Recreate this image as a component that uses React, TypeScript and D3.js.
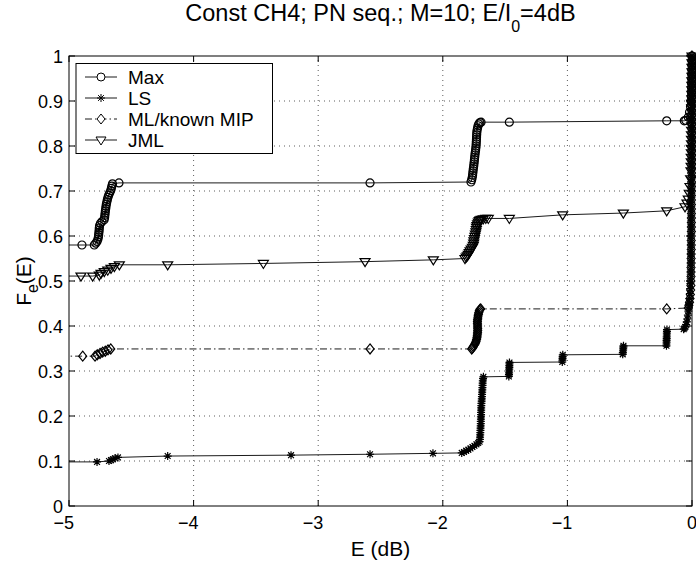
import React from "react";
import * as d3 from "d3";

type P = [number, number];

const xTicks = [-5, -4, -3, -2, -1, 0];
const yTicks = [0, 0.1, 0.2, 0.3, 0.4, 0.5, 0.6, 0.7, 0.8, 0.9, 1];
const legendNames = ["Max", "LS", "ML/known MIP", "JML"];

const maxData: P[] = [
  [-5.3, 0.58], [-4.896, 0.58],
  [-4.797, 0.58], [-4.785, 0.584], [-4.775, 0.588], [-4.768, 0.593], [-4.764, 0.598], [-4.762, 0.603],
  [-4.76, 0.608], [-4.758, 0.613], [-4.757, 0.618], [-4.755, 0.623], [-4.748, 0.628], [-4.735, 0.632],
  [-4.718, 0.636], [-4.714, 0.641], [-4.712, 0.646], [-4.71, 0.651], [-4.708, 0.656], [-4.705, 0.661],
  [-4.703, 0.666], [-4.7, 0.671], [-4.696, 0.676], [-4.692, 0.681], [-4.687, 0.686], [-4.681, 0.691],
  [-4.673, 0.696], [-4.665, 0.701], [-4.66, 0.706], [-4.656, 0.711], [-4.651, 0.716],
  [-4.599, 0.718], [-2.584, 0.718],
  [-1.774, 0.72], [-1.768, 0.725], [-1.764, 0.73], [-1.761, 0.735], [-1.759, 0.74], [-1.757, 0.745],
  [-1.755, 0.75], [-1.752, 0.755], [-1.75, 0.76], [-1.748, 0.765], [-1.746, 0.77], [-1.744, 0.775],
  [-1.742, 0.78], [-1.74, 0.785], [-1.737, 0.79], [-1.735, 0.795], [-1.733, 0.8], [-1.732, 0.805],
  [-1.731, 0.81], [-1.73, 0.815], [-1.729, 0.82], [-1.728, 0.825], [-1.727, 0.83], [-1.725, 0.835],
  [-1.721, 0.84], [-1.717, 0.845], [-1.711, 0.849], [-1.702, 0.852], [-1.693, 0.853],
  [-1.466, 0.853], [-0.203, 0.856], [-0.062, 0.856], [-0.05, 0.857],
  [-0.03, 0.864], [-0.02, 0.875], [-0.012, 0.888], [-0.008, 0.9], [-0.006, 0.91], [-0.005, 0.92],
  [-0.004, 0.93], [-0.004, 0.94], [-0.003, 0.95], [-0.003, 0.96], [-0.002, 0.97], [-0.001, 0.98],
  [-0.001, 0.99], [0, 1],
];

const lsData: P[] = [
  [-5.3, 0.098], [-4.775, 0.098], [-4.679, 0.1], [-4.663, 0.102], [-4.647, 0.104], [-4.631, 0.106],
  [-4.607, 0.108], [-4.208, 0.111], [-3.218, 0.113], [-2.584, 0.115], [-2.079, 0.117],
  [-1.848, 0.118], [-1.83, 0.12], [-1.812, 0.123], [-1.795, 0.125], [-1.778, 0.128], [-1.762, 0.131],
  [-1.746, 0.134], [-1.73, 0.137], [-1.716, 0.14], [-1.705, 0.143],
  [-1.702, 0.148], [-1.701, 0.153], [-1.7, 0.158], [-1.699, 0.163], [-1.698, 0.168], [-1.697, 0.173],
  [-1.696, 0.178], [-1.695, 0.183], [-1.695, 0.188], [-1.694, 0.193], [-1.694, 0.198], [-1.693, 0.203],
  [-1.693, 0.208], [-1.692, 0.213], [-1.692, 0.218], [-1.691, 0.223], [-1.69, 0.228], [-1.688, 0.233],
  [-1.687, 0.238], [-1.686, 0.243], [-1.685, 0.248], [-1.684, 0.253], [-1.683, 0.258], [-1.682, 0.263],
  [-1.681, 0.268], [-1.68, 0.273], [-1.679, 0.278], [-1.677, 0.283], [-1.674, 0.287],
  [-1.47, 0.288], [-1.469, 0.292], [-1.468, 0.296], [-1.468, 0.3], [-1.467, 0.304], [-1.466, 0.308],
  [-1.466, 0.312], [-1.465, 0.316], [-1.465, 0.319],
  [-1.041, 0.32], [-1.04, 0.324], [-1.039, 0.328], [-1.038, 0.332], [-1.037, 0.336],
  [-0.556, 0.337], [-0.555, 0.341], [-0.553, 0.345], [-0.552, 0.349], [-0.551, 0.353], [-0.55, 0.356],
  [-0.205, 0.356], [-0.205, 0.36], [-0.204, 0.364], [-0.204, 0.368], [-0.203, 0.372], [-0.203, 0.376],
  [-0.202, 0.38], [-0.202, 0.384], [-0.201, 0.388], [-0.201, 0.392],
  [-0.067, 0.393], [-0.06, 0.395], [-0.053, 0.398], [-0.047, 0.403], [-0.042, 0.409], [-0.037, 0.416],
  [-0.033, 0.424], [-0.029, 0.433], [-0.026, 0.442], [-0.023, 0.451], [-0.02, 0.461], [-0.017, 0.472],
  [-0.015, 0.483], [-0.013, 0.494], [-0.011, 0.505], [-0.01, 0.515],
  [-0.009, 0.525], [-0.009, 0.535], [-0.008, 0.545], [-0.008, 0.555], [-0.008, 0.565], [-0.007, 0.575],
  [-0.007, 0.585], [-0.007, 0.595], [-0.006, 0.605], [-0.006, 0.615], [-0.006, 0.625], [-0.006, 0.635],
  [-0.005, 0.645], [-0.005, 0.655], [-0.005, 0.665], [-0.005, 0.675], [-0.004, 0.685], [-0.004, 0.695],
  [-0.004, 0.705], [-0.004, 0.715], [-0.004, 0.725], [-0.003, 0.735], [-0.003, 0.745], [-0.003, 0.755],
  [-0.003, 0.765], [-0.003, 0.775], [-0.003, 0.785], [-0.002, 0.795], [-0.002, 0.805], [-0.002, 0.815],
  [-0.002, 0.825], [-0.002, 0.835], [-0.002, 0.845], [-0.002, 0.855], [-0.001, 0.865], [-0.001, 0.875],
  [-0.001, 0.885], [-0.001, 0.895], [-0.001, 0.905], [-0.001, 0.915], [-0.001, 0.925], [-0.001, 0.935],
  [0, 0.945], [0, 0.955], [0, 0.965], [0, 0.975], [0, 0.985], [0, 0.995], [0, 1],
];

const mlData: P[] = [
  [-5.3, 0.333], [-4.89, 0.333], [-4.791, 0.333], [-4.773, 0.336], [-4.751, 0.339], [-4.73, 0.342],
  [-4.709, 0.344], [-4.687, 0.347], [-4.665, 0.349],
  [-2.584, 0.349],
  [-1.768, 0.349], [-1.762, 0.351], [-1.755, 0.354], [-1.749, 0.357], [-1.742, 0.36], [-1.737, 0.363],
  [-1.733, 0.366], [-1.729, 0.37], [-1.726, 0.374], [-1.724, 0.378], [-1.722, 0.382], [-1.721, 0.386],
  [-1.72, 0.39], [-1.72, 0.394], [-1.721, 0.398], [-1.721, 0.402], [-1.722, 0.406], [-1.722, 0.41],
  [-1.721, 0.414], [-1.719, 0.418], [-1.717, 0.422], [-1.714, 0.426], [-1.711, 0.43], [-1.707, 0.434],
  [-1.702, 0.437], [-1.696, 0.438],
  [-0.203, 0.438],
  [-0.03, 0.44], [-0.025, 0.446], [-0.02, 0.453], [-0.016, 0.461], [-0.013, 0.47], [-0.011, 0.48],
  [-0.009, 0.49], [-0.009, 0.5], [-0.008, 0.51], [-0.008, 0.52], [-0.008, 0.53], [-0.007, 0.54],
  [-0.007, 0.55], [-0.007, 0.56], [-0.006, 0.57], [-0.006, 0.58], [-0.006, 0.59], [-0.006, 0.6],
  [-0.005, 0.61], [-0.005, 0.62], [-0.005, 0.63], [-0.005, 0.64], [-0.004, 0.65], [-0.004, 0.66],
  [-0.004, 0.67], [-0.004, 0.68], [-0.004, 0.69], [-0.003, 0.7], [-0.003, 0.71], [-0.003, 0.72],
  [-0.003, 0.73], [-0.003, 0.74], [-0.003, 0.75], [-0.002, 0.76], [-0.002, 0.77], [-0.002, 0.78],
  [-0.002, 0.79], [-0.002, 0.8], [-0.002, 0.81], [-0.002, 0.82], [-0.001, 0.83], [-0.001, 0.84],
  [-0.001, 0.85], [-0.001, 0.86], [-0.001, 0.87], [-0.001, 0.88], [-0.001, 0.89], [-0.001, 0.9],
  [0, 0.91], [0, 0.92], [0, 0.93], [0, 0.94], [0, 0.95], [0, 0.96], [0, 0.97], [0, 0.98], [0, 0.99], [0, 1],
];

const jmlData: P[] = [
  [-5.3, 0.511], [-4.904, 0.511], [-4.81, 0.511], [-4.757, 0.513], [-4.743, 0.517], [-4.717, 0.521],
  [-4.689, 0.524], [-4.663, 0.528], [-4.636, 0.532], [-4.596, 0.536], [-4.208, 0.536], [-3.44, 0.539],
  [-2.624, 0.543], [-2.076, 0.547], [-1.822, 0.55],
  [-1.812, 0.553], [-1.803, 0.556], [-1.795, 0.559], [-1.788, 0.563], [-1.781, 0.567], [-1.772, 0.571],
  [-1.762, 0.575], [-1.755, 0.579], [-1.752, 0.584], [-1.75, 0.589], [-1.746, 0.594], [-1.742, 0.599],
  [-1.738, 0.604], [-1.734, 0.609], [-1.731, 0.614], [-1.729, 0.619], [-1.726, 0.623], [-1.721, 0.627],
  [-1.715, 0.631], [-1.708, 0.634], [-1.7, 0.636], [-1.69, 0.637], [-1.675, 0.638], [-1.655, 0.639],
  [-1.635, 0.639],
  [-1.466, 0.639], [-1.038, 0.647], [-0.551, 0.651], [-0.203, 0.656], [-0.056, 0.665],
  [-0.04, 0.673], [-0.03, 0.682], [-0.022, 0.695], [-0.016, 0.71], [-0.011, 0.727], [-0.008, 0.745],
  [-0.007, 0.755], [-0.006, 0.765], [-0.006, 0.775], [-0.005, 0.785], [-0.005, 0.795], [-0.004, 0.805],
  [-0.004, 0.815], [-0.004, 0.825], [-0.003, 0.835], [-0.003, 0.845], [-0.003, 0.855], [-0.002, 0.865],
  [-0.002, 0.875], [-0.002, 0.885], [-0.002, 0.895], [-0.001, 0.905], [-0.001, 0.915], [-0.001, 0.925],
  [-0.001, 0.935], [-0.001, 0.945], [0, 0.955], [0, 0.965], [0, 0.975], [0, 0.985], [0, 0.995], [0, 1],
];

const W = 696;
const H = 562;
const L = 69, R = 692, T = 56, B = 506;
const FONT = "'Liberation Sans', Arial, Helvetica, sans-serif";

const x = d3.scaleLinear().domain([-5, 0]).range([L, R]);
const y = d3.scaleLinear().domain([0, 1]).range([B, T]);

type MarkerKind = "circle" | "star" | "diamond" | "triangle";

function markerPath(kind: MarkerKind): string {
  switch (kind) {
    case "circle":
      return "M4,0A4,4 0 1,1 -4,0A4,4 0 1,1 4,0Z";
    case "star": {
      const r = 4, a = 2.9;
      return `M0,${-r}L0,${r}M${-r},0L${r},0M${-a},${-a}L${a},${a}M${-a},${a}L${a},${-a}`;
    }
    case "diamond":
      return "M0,-5L4,0L0,5L-4,0Z";
    case "triangle":
      return "M-5,-3L5,-3L0,5Z";
  }
}

const seriesDefs: { name: string; data: P[]; marker: MarkerKind; dash?: string }[] = [
  { name: legendNames[0], data: maxData, marker: "circle" },
  { name: legendNames[1], data: lsData, marker: "star" },
  { name: legendNames[2], data: mlData, marker: "diamond", dash: "7,3,1.5,3" },
  { name: legendNames[3], data: jmlData, marker: "triangle" },
];

function fmtX(v: number) {
  return v < 0 ? "\u2212" + Math.abs(v) : String(v);
}
function fmtY(v: number) {
  return String(+v.toFixed(1));
}

export default function App() {
  const line = d3
    .line<P>()
    .x((d) => x(d[0]))
    .y((d) => y(d[1]));

  const gridX = xTicks.filter((t) => t > -5 && t < 0);
  const gridY = yTicks.filter((t) => t > 0 && t < 1);

  return (
    <svg
      width={W}
      height={H}
      viewBox={`0 0 ${W} ${H}`}
      style={{ position: "absolute", left: 0, top: 0, background: "#fff" }}
      fontFamily={FONT}
    >
      <defs>
        <clipPath id="plotclip">
          <rect x={L} y={T - 1} width={R - L + 1} height={B - T + 2} />
        </clipPath>
      </defs>
      <rect x={0} y={0} width={W} height={H} fill="#fff" />

      {/* grid */}
      <g stroke="#333" strokeWidth={0.8} strokeDasharray="1,4">
        {gridX.map((t) => (
          <line key={"gx" + t} x1={x(t)} x2={x(t)} y1={B} y2={T} />
        ))}
        {gridY.map((t) => (
          <line key={"gy" + t} x1={L} x2={R} y1={y(t)} y2={y(t)} />
        ))}
      </g>

      {/* box */}
      <rect x={L} y={T} width={R - L} height={B - T} fill="none" stroke="#000" strokeWidth={1} />

      {/* ticks */}
      <g stroke="#000" strokeWidth={1}>
        {xTicks.map((t) => (
          <g key={"tx" + t}>
            <line x1={x(t)} x2={x(t)} y1={B} y2={B - 6} />
            <line x1={x(t)} x2={x(t)} y1={T} y2={T + 6} />
          </g>
        ))}
        {yTicks.map((t) => (
          <g key={"ty" + t}>
            <line x1={L} x2={L + 6} y1={y(t)} y2={y(t)} />
            <line x1={R} x2={R - 6} y1={y(t)} y2={y(t)} />
          </g>
        ))}
      </g>

      {/* tick labels */}
      <g fontSize={18} fill="#000">
        {xTicks.map((t) => (
          <text key={"lx" + t} x={x(t) + 5} y={B + 23} textAnchor="end">
            {fmtX(t)}
          </text>
        ))}
        {yTicks.map((t) => (
          <text key={"ly" + t} x={L - 6} y={y(t) + 7} textAnchor="end">
            {fmtY(t)}
          </text>
        ))}
      </g>

      {/* data */}
      {seriesDefs.map((s) => (
        <g key={s.name}>
          <path
            d={line(s.data) || ""}
            fill="none"
            stroke="#000"
            strokeWidth={0.9}
            strokeDasharray={s.dash}
            clipPath="url(#plotclip)"
          />
          <g fill="none" stroke="#000" strokeWidth={1.2}>
            {s.data
              .filter((d) => d[0] >= -5)
              .map((d, i) => (
                <path key={i} d={markerPath(s.marker)} transform={`translate(${x(d[0])},${y(d[1])})`} />
              ))}
          </g>
        </g>
      ))}

      {/* legend */}
      <g>
        <rect x={76} y={63.5} width={196.5} height={90} fill="#fff" stroke="#000" strokeWidth={1} />
        {seriesDefs.map((s, i) => {
          const cy = 77 + i * 21;
          return (
            <g key={"lg" + s.name}>
              <line x1={85} x2={117} y1={cy} y2={cy} stroke="#000" strokeWidth={0.9} strokeDasharray={s.dash} />
              <path d={markerPath(s.marker)} transform={`translate(101,${cy})`} fill="#fff" stroke="#000" strokeWidth={1} />
              <text x={128} y={cy + 7} fontSize={19} fill="#000">
                {s.name}
              </text>
            </g>
          );
        })}
      </g>

      {/* title */}
      <text x={(L + R) / 2} y={21} textAnchor="middle" fontSize={23.5} fill="#000">
        Const CH4; PN seq.; M=10; E/I
        <tspan fontSize={16} dy={11}>0</tspan>
        <tspan dy={-11}>=4dB</tspan>
      </text>

      {/* axis labels */}
      <text x={(L + R) / 2} y={556} textAnchor="middle" fontSize={21} fill="#000">
        E (dB)
      </text>
      <text transform={`translate(31,${(T + B) / 2}) rotate(-90)`} textAnchor="middle" fontSize={21} fill="#000">
        F<tspan fontSize={16} dy={7}>e</tspan>
        <tspan dy={-7}>(E)</tspan>
      </text>
    </svg>
  );
}
